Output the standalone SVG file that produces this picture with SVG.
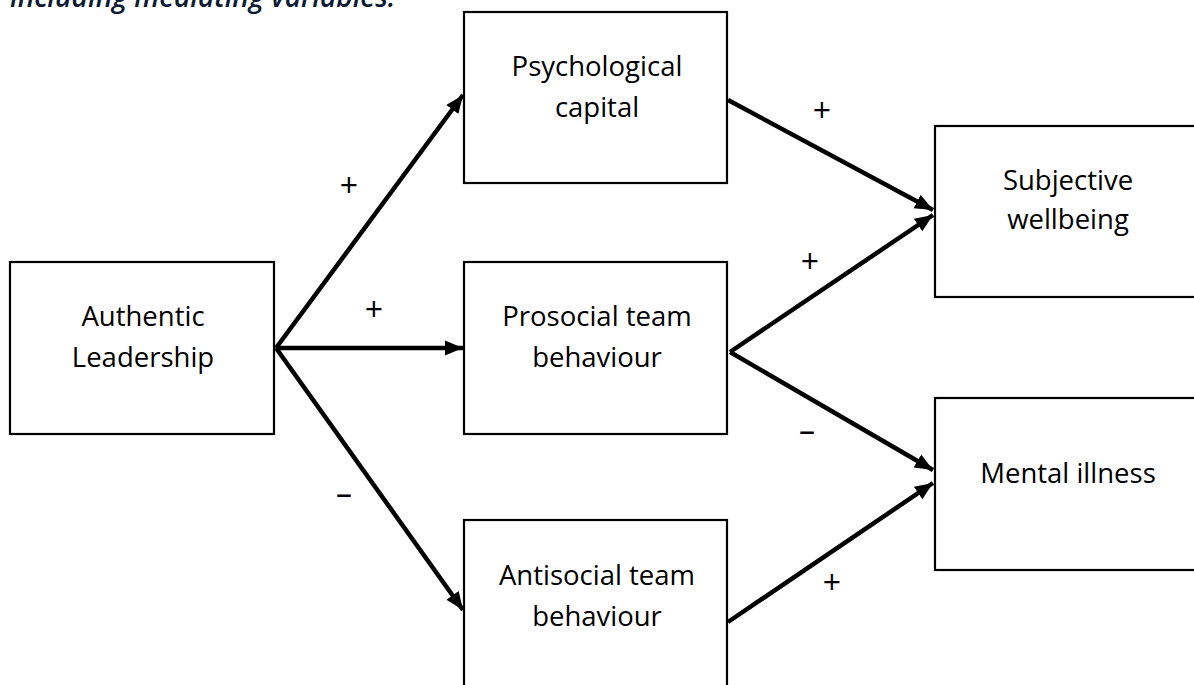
<svg xmlns="http://www.w3.org/2000/svg" width="1194" height="685" viewBox="0 0 1194 685">
  <defs>
    <marker id="arrow" viewBox="0 0 10 10" refX="10" refY="5" markerWidth="4" markerHeight="4" markerUnits="strokeWidth" orient="auto">
      <path d="M0,0.8 L10,5 L0,9.2 z" fill="#000"/>
    </marker>
  </defs>
  <style>
    text { font-variant-ligatures: none; }
    .box { fill: #fff; stroke: #000; stroke-width: 2.2; }
    .lbl { font-family: "Open Sans", "Noto Sans", sans-serif; font-size: 27.5px; font-weight: 500; fill: #000; text-anchor: middle; }
    .sign { font-family: "Open Sans", "Noto Sans", sans-serif; font-size: 32px; fill: #000; text-anchor: middle; }
    .edge { stroke: #000; stroke-width: 4.5; fill: none; marker-end: url(#arrow); }
    .title { font-family: "Open Sans", "Noto Sans", sans-serif; font-size: 28px; font-style: italic; font-weight: 600; fill: #0d1a33; }
  </style>

  <text class="title" x="10" y="7">including mediating variables.</text>

  <g id="connectors">
    <path class="edge" d="M276,348 L463,95"/>
    <path class="edge" d="M276,348 L463,348"/>
    <path class="edge" d="M276,348 L463,610"/>
    <path class="edge" d="M728,100 L933,210"/>
    <path class="edge" d="M730,352 L933,215"/>
    <path class="edge" d="M730,352 L933,470"/>
    <path class="edge" d="M728,622 L933,483"/>
    <text class="sign" x="349" y="197">+</text>
    <text class="sign" x="374" y="321">+</text>
    <text class="sign" x="344" y="505">–</text>
    <text class="sign" x="822" y="122">+</text>
    <text class="sign" x="810" y="273">+</text>
    <text class="sign" x="807" y="442">–</text>
    <text class="sign" x="832" y="594">+</text>
  </g>

  <g id="authentic">
    <rect class="box" x="10" y="262" width="264" height="172"/>
    <text class="lbl" x="143" y="326">Authentic</text>
    <text class="lbl" x="143" y="367">Leadership</text>
  </g>
  <g id="psycap">
    <rect class="box" x="464" y="12" width="263" height="171"/>
    <text class="lbl" x="597" y="76">Psychological</text>
    <text class="lbl" x="597" y="117">capital</text>
  </g>
  <g id="prosocial">
    <rect class="box" x="464" y="262" width="263" height="172"/>
    <text class="lbl" x="597" y="326">Prosocial team</text>
    <text class="lbl" x="597" y="367">behaviour</text>
  </g>
  <g id="antisocial">
    <rect class="box" x="464" y="520" width="263" height="180"/>
    <text class="lbl" x="597" y="585">Antisocial team</text>
    <text class="lbl" x="597" y="626">behaviour</text>
  </g>
  <g id="wellbeing">
    <rect class="box" x="935" y="126" width="270" height="171"/>
    <text class="lbl" x="1068" y="190">Subjective</text>
    <text class="lbl" x="1068" y="229">wellbeing</text>
  </g>
  <g id="illness">
    <rect class="box" x="935" y="398" width="270" height="172"/>
    <text class="lbl" x="1068" y="483">Mental illness</text>
  </g>
</svg>
